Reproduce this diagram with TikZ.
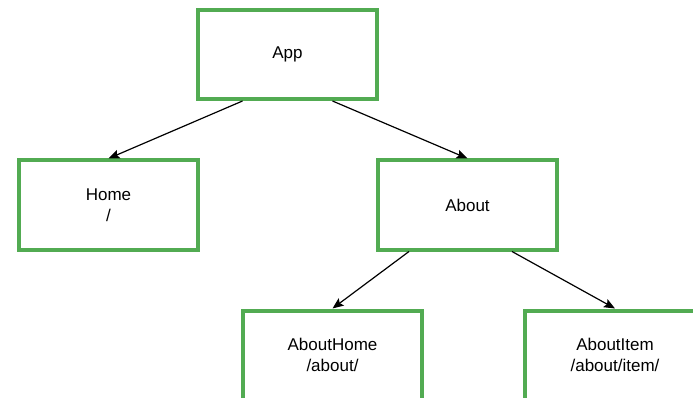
\documentclass[tikz,border=0pt]{standalone}
\usepackage{fontspec}
\setmainfont{Liberation Sans}
\usetikzlibrary{arrows.meta,positioning}
\definecolor{boxgreen}{RGB}{82,171,82}
\begin{document}
\begin{tikzpicture}[x=1pt,y=1pt,
		routebox/.style={draw=boxgreen, line width=4pt, fill=white, minimum width=179pt, minimum height=89pt,
			align=center, font=\fontsize{17pt}{21pt}\selectfont, inner sep=0pt},
		link/.style={-{Stealth[length=11pt,width=9pt,inset=2pt]}, line width=1.2pt}]
			\useasboundingbox (0,0) rectangle (693,-398);
			\node[routebox] (app) at (287.5,-54.5) {App};
			\node[routebox] (home) at (108.5,-205) {Home\\/};
			\node[routebox] (about) at (467.5,-205) {About};
			\node[routebox] (abouthome) at (332.5,-355) {AboutHome\\/about/};
			\node[routebox, minimum width=180pt] (aboutitem) at (615,-355) {AboutItem\\/about/item/};
			\draw[link] ([xshift=-45pt]app.south) -- (home.north);
			\draw[link] ([xshift=45pt]app.south) -- (about.north);
			\draw[link] ([xshift=-58.5pt]about.south) -- (abouthome.north);
			\draw[link] ([xshift=44.5pt]about.south) -- (aboutitem.north);
		\end{tikzpicture}
\end{document}
